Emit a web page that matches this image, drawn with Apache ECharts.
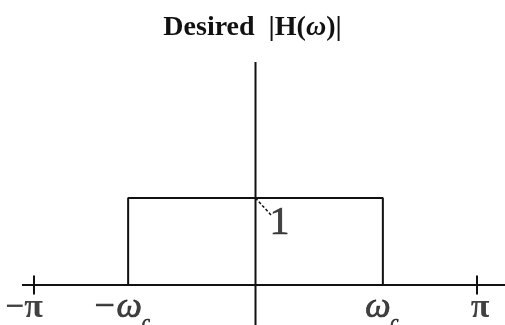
<!DOCTYPE html>
<html>
<head>
<meta charset="utf-8">
<script src="https://cdn.jsdelivr.net/npm/echarts@6/dist/echarts.min.js"></script>
<style>
  html, body { margin: 0; padding: 0; background: #fff; }
  #chart { width: 505px; height: 325px; }
</style>
</head>
<body>
<div id="chart"></div>
<script>
// Ideal low-pass magnitude response; frequencies are in units of pi.
const cutoff = 0.575;                 // omega_c / pi
const passGain = 1;                   // |H| in the pass band
const bandEdges = [-1, 1];            // -pi and pi
const tickLabels = ['−π', '−ω', 'ω', 'π'];
const tickValues = [-1, -cutoff, cutoff, 1];
const gainLabel = '1';

// Pixel scale of the drawing: 221.5 px per pi horizontally, 87 px per unit vertically.
const W = 505, H = 325;
const x0px = 255.5, xUnit = 221.5;
const y0px = 285, yUnit = 87;
const xMin = -x0px / xUnit, xMax = (W - x0px) / xUnit;
const yMin = -(H - y0px) / yUnit, yMax = y0px / yUnit;

const ink = '#111111';
const serif = '"Liberation Serif", "DejaVu Serif", serif';

// Axes drawn as lines in data space
const hAxis = [[(22 - x0px) / xUnit, 0], [xMax, 0]];
const vAxis = [[0, yMin], [0, (y0px - 62) / yUnit]];
const tickHalf = 0.11;

const rect = [[-cutoff, 0], [-cutoff, passGain], [cutoff, passGain], [cutoff, 0]];

const lineSeries = (data, extra) => Object.assign({
  type: 'line', data, symbol: 'none', clip: false, silent: true,
  lineStyle: { color: ink, width: 2 }, animation: false
}, extra || {});

const series = [
  lineSeries(hAxis),
  lineSeries(vAxis),
  lineSeries(rect),
];
bandEdges.forEach(v => series.push(lineSeries([[v, -tickHalf], [v, tickHalf]])));
// leader from the band top to the gain label
series.push(lineSeries([[0, passGain], [0.075, passGain - 0.21]], {
  lineStyle: { color: ink, width: 1.5, type: [3, 2] }
}));

// label nudges (pixels) for each tick label
const nudge = [[-10, 23], [-7, 23], [-1, 23], [3, 23]];
const heavy = { textBorderColor: ink, textBorderWidth: 0.7 };
const rich = {
  pi: { fontFamily: serif, fontSize: 34, fontWeight: 'bold', color: ink },
  om: Object.assign({ fontFamily: serif, fontSize: 36, fontStyle: 'italic', color: ink }, heavy),
  sub: Object.assign({ fontFamily: serif, fontSize: 18, fontStyle: 'italic', color: ink, padding: [30, 0, 0, 0] }, heavy)
};
const labelBase = {
  show: true, position: [0, 0], align: 'center', verticalAlign: 'middle', color: ink
};
series.push({
  type: 'scatter', symbolSize: 0, silent: true, animation: false,
  data: tickValues.map((v, i) => {
    const t = tickLabels[i];
    const txt = t.includes('ω') ? `{om|${t}}{sub|c}` : `{pi|${t}}`;
    return {
      value: [v, 0],
      label: Object.assign({}, labelBase, { formatter: txt, rich, offset: nudge[i] })
    };
  })
});
series.push({
  type: 'scatter', symbolSize: 0, silent: true, animation: false,
  data: [{
    value: [0, passGain],
    label: Object.assign({}, labelBase, heavy, { formatter: gainLabel, offset: [24, 25],
      fontFamily: serif, fontSize: 40 })
  }]
});

const chart = echarts.init(document.getElementById('chart'));
chart.setOption({
  backgroundColor: '#fff',
  animation: false,
  title: {
    text: '{b|Desired}{sp| }{n||}{b|H}{n|(}{w|ω}{n|)|}',
    left: 'center', top: 9,
    textStyle: {
      rich: {
        b: { fontFamily: serif, fontSize: 28, fontWeight: 'bold', color: ink },
        n: { fontFamily: serif, fontSize: 28, color: ink },
        sp: { fontFamily: serif, fontSize: 28, width: 14 },
        w: { fontFamily: serif, fontSize: 28, fontStyle: 'italic', color: ink }
      }
    }
  },
  grid: { left: 0, right: 0, top: 0, bottom: 0 },
  xAxis: { type: 'value', min: xMin, max: xMax, show: false },
  yAxis: { type: 'value', min: yMin, max: yMax, show: false },
  series
});
</script>
</body>
</html>
